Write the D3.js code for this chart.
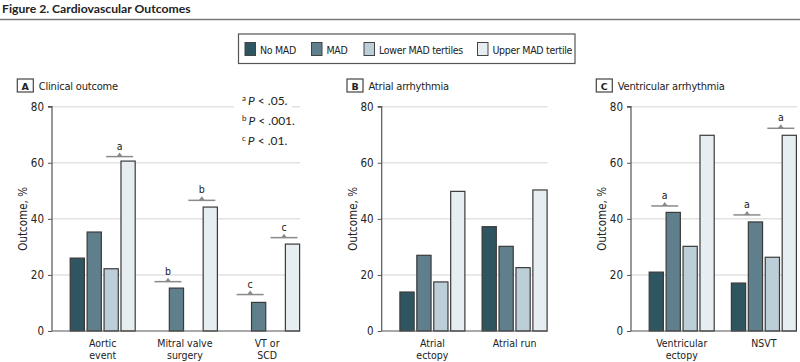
<!DOCTYPE html>
<html>
<head>
<meta charset="utf-8">
<script src="https://cdn.jsdelivr.net/npm/d3@7"></script>
<style>
  body { margin: 0; background: #fff; }
  svg { display: block; }
  text { font-family: "Liberation Sans Narrow", "DejaVu Sans Condensed", sans-serif; fill: #222; }
</style>
</head>
<body>
<div id="chart"></div>
<script>
// serie e colori
const series = ["No MAD", "MAD", "Lower MAD tertiles", "Upper MAD tertile"];
const colors = ["#2f5561", "#5e7f8b", "#bccfd8", "#e7eef1"];
const yTicks = [0, 20, 40, 60, 80];

// pannello A
const clinicalGroups = [["Aortic", "event"], ["Mitral valve", "surgery"], ["VT or", "SCD"]];
const clinicalValues = [[26, 35.3, 22.2, 60.6], [null, 15.3, null, 44.2], [null, 10.2, null, 31]];
const clinicalMarks = [
  { g: 0, pair: 2, letter: "a", level: 62.2 },
  { g: 1, pair: 0, letter: "b", level: 17.6 },
  { g: 1, pair: 2, letter: "b", level: 46.6 },
  { g: 2, pair: 0, letter: "c", level: 13 },
  { g: 2, pair: 2, letter: "c", level: 33.3 }
];

// pannello B
const atrialGroups = [["Atrial", "ectopy"], ["Atrial run"]];
const atrialValues = [[13.9, 27, 17.5, 49.8], [37.2, 30.2, 22.6, 50.3]];

// pannello C
const ventricularGroups = [["Ventricular", "ectopy"], ["NSVT"]];
const ventricularValues = [[21, 42.3, 30.2, 69.8], [17.1, 38.9, 26.3, 69.8]];
const ventricularMarks = [
  { g: 0, pair: 0, letter: "a", level: 44.6 },
  { g: 1, pair: 0, letter: "a", level: 41.4 },
  { g: 1, pair: 2, letter: "a", level: 72.3 }
];

const notes = [["a", ".05."], ["b", ".001."], ["c", ".01."]];

const W = 800, H = 362;
const svg = d3.select("#chart").append("svg").attr("width", W).attr("height", H);

// titolo
svg.append("text").attr("x", 2).attr("y", 13)
  .style("font-family", "Lato, sans-serif").style("font-weight", 700).style("font-size", "12.2px")
  .text("Figure 2. Cardiovascular Outcomes");
svg.append("line").attr("x1", 0).attr("x2", W).attr("y1", 19.5).attr("y2", 19.5)
  .attr("stroke", "#777").attr("stroke-width", 1.5);

// legenda
const legend = svg.append("g");
legend.append("rect").attr("x", 238.5).attr("y", 34).attr("width", 336.5).attr("height", 29.5)
  .attr("fill", "#fff").attr("stroke", "#555").attr("stroke-width", 1.2);
const legendX = [245, 311.5, 364, 477.5];
series.forEach((s, i) => {
  legend.append("rect").attr("x", legendX[i]).attr("y", 42.5).attr("width", 10.5).attr("height", 13)
    .attr("fill", colors[i]).attr("stroke", "#444").attr("stroke-width", 1);
  legend.append("text").attr("x", legendX[i] + 15).attr("y", 53.5)
    .style("font-size", "10.5px").style("letter-spacing", "-0.3px").text(s);
});

const y = d3.scaleLinear().domain([0, 80]).range([331, 106.7]);

function drawPanel(opts) {
  const g = svg.append("g");
  const { axisX, groups, values, marks, letter, title } = opts;
  const step = 82.2;
  const x = d3.scaleBand().domain(d3.range(groups.length))
    .range([axisX + 9.6, axisX + 9.6 + step * groups.length]);
  const inner = d3.scaleBand().domain(d3.range(series.length)).range([-32.5, 32.5]).paddingInner(0.16);
  const center = i => x(i) + x.bandwidth() / 2;
  const endX = center(groups.length - 1) + 33;

  // griglia
  g.append("g").selectAll("line").data(yTicks.filter(t => t > 0)).join("line")
    .attr("x1", axisX).attr("x2", endX).attr("y1", d => y(d)).attr("y2", d => y(d))
    .attr("stroke", "#e2e2e2").attr("stroke-width", 1.5);

  // asse y
  const yAxis = g.append("g").attr("transform", `translate(${axisX},0)`)
    .call(d3.axisLeft(y).tickValues(yTicks).tickSize(4).tickPadding(4));
  yAxis.select(".domain").attr("stroke", "#555").attr("stroke-width", 1.2).attr("d", `M-4,${y(80)}H0V${y(0)}`);
  yAxis.selectAll(".tick line").attr("stroke", "#555");
  yAxis.selectAll(".tick text").style("font-size", "11.5px").style("font-family", null).attr("fill", "#222");

  g.append("text").attr("transform", `translate(${axisX - 29},${(y(0) + y(80)) / 2}) rotate(-90)`)
    .attr("text-anchor", "middle").attr("dy", "0.35em").style("font-size", "11.5px").text("Outcome, %");

  // barre
  values.forEach((row, gi) => {
    g.append("g").attr("transform", `translate(${center(gi)},0)`)
      .selectAll("rect").data(row.map((v, si) => ({ v, si })).filter(d => d.v != null)).join("rect")
      .attr("x", d => inner(d.si)).attr("width", inner.bandwidth())
      .attr("y", d => y(d.v)).attr("height", d => y(0) - y(d.v))
      .attr("fill", d => colors[d.si]).attr("stroke", "#3a3a3a").attr("stroke-width", 1.2);
  });

  // asse x
  g.append("line").attr("x1", axisX).attr("x2", endX).attr("y1", y(0)).attr("y2", y(0))
    .attr("stroke", "#555").attr("stroke-width", 1.2);
  groups.forEach((lines, gi) => {
    const t = g.append("text").attr("x", center(gi)).attr("y", 346.5).attr("text-anchor", "middle")
      .style("font-size", "10.5px");
    lines.forEach((l, li) => t.append("tspan").attr("x", center(gi)).attr("dy", li ? 12 : 0).text(l));
  });

  // significativita
  (marks || []).forEach(m => {
    const mx = center(m.g) + (inner(m.pair) + inner.bandwidth() + inner(m.pair + 1)) / 2;
    const my = y(m.level);
    g.append("line").attr("x1", mx - 13.5).attr("x2", mx + 13.5).attr("y1", my).attr("y2", my)
      .attr("stroke", "#8a8a8a").attr("stroke-width", 1.5);
    g.append("path").attr("d", `M${mx - 3},${my}L${mx},${my - 4}L${mx + 3},${my}Z`).attr("fill", "#8a8a8a");
    g.append("text").attr("x", mx).attr("y", my - 7).attr("text-anchor", "middle")
      .style("font-size", "10.5px").text(m.letter);
  });

  // etichetta pannello
  const lx = axisX - 34.7;
  g.append("rect").attr("x", lx).attr("y", 79).attr("width", 16).attr("height", 13)
    .attr("fill", "#fff").attr("stroke", "#444").attr("stroke-width", 1.2);
  g.append("text").attr("x", lx + 8).attr("y", 89.5).attr("text-anchor", "middle")
    .style("font-size", "9.5px").style("font-weight", 700).style("font-family", "'DejaVu Sans', sans-serif")
    .text(letter);
  g.append("text").attr("x", lx + 21.5).attr("y", 89.5)
    .style("font-size", "11px").style("letter-spacing", "-0.2px").text(title);
  return g;
}

const panelA = drawPanel({ axisX: 52, groups: clinicalGroups, values: clinicalValues, marks: clinicalMarks, letter: "A", title: "Clinical outcome" });
drawPanel({ axisX: 381.7, groups: atrialGroups, values: atrialValues, letter: "B", title: "Atrial arrhythmia" });
drawPanel({ axisX: 631, groups: ventricularGroups, values: ventricularValues, marks: ventricularMarks, letter: "C", title: "Ventricular arrhythmia" });

// nota P
const note = panelA.append("g");
note.append("rect").attr("x", 234).attr("y", 93).attr("width", 58).attr("height", 57).attr("fill", "#fff");
notes.forEach((n, i) => {
  const t = note.append("text").attr("x", 242).attr("y", 104.5 + i * 20)
    .style("font-family", "Lato, sans-serif").style("font-size", "12px");
  t.append("tspan").attr("dy", -4).style("font-size", "8px").text(n[0]);
  t.append("tspan").attr("dx", 2).attr("dy", 4).style("font-style", "italic").text("P");
  t.append("tspan").text(" < " + n[1]);
});
</script>
</body>
</html>
